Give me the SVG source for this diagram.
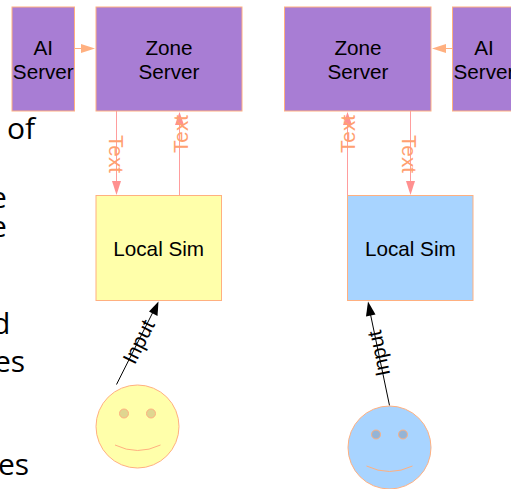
<svg xmlns="http://www.w3.org/2000/svg" width="511" height="489" viewBox="0 0 511 489">
<style>
.box{stroke:#ffb080;stroke-width:1}
.purple{fill:#a87dd4}
.yellow{fill:#ffffaa}
.blue{fill:#a8d4ff}
.t{font:20.700px "Liberation Sans",Arial,sans-serif;fill:#000;text-anchor:middle}
.c{font:20.700px "Liberation Sans",Arial,sans-serif;fill:#ffa070;text-anchor:middle}
.i{font:20.700px "Liberation Sans",Arial,sans-serif;fill:#000;text-anchor:middle}
.b{font:30px "Open Sans","DejaVu Sans",sans-serif;fill:#000}
.l{fill:none;stroke:#ff9d9d;stroke-width:1}
.k{fill:none;stroke:#000;stroke-width:1}
.f{stroke:#ffb080;stroke-width:1}
.m{fill:none;stroke:#ffb080;stroke-width:1}
</style>
<g id="background-text">
<text class="b" x="7" y="139">of</text>
<text class="b" x="-10" y="208">e</text>
<text class="b" x="-10" y="237">e</text>
<text class="b" x="-8" y="334">d</text>
<text class="b" x="-6" y="372">es</text>
<text class="b" x="-2" y="475">es</text>
</g>
<g id="connectors">
<line class="l" x1="75" y1="48.500" x2="82" y2="48.500" style="stroke:#ffb080"/>
<polygon points="95,48.500 81,44 81,53" fill="#ffb080"/>
<line class="l" x1="116.500" y1="111" x2="116.500" y2="182"/>
<polygon points="116.500,195 112,181 121,181" fill="#ff9090"/>
<line class="l" x1="179.500" y1="195" x2="179.500" y2="125"/>
<polygon points="179.500,112 175,125 184,125" fill="#ff9090"/>
<line class="l" x1="347.500" y1="195" x2="347.500" y2="125"/>
<polygon points="347.500,112 343,125 352,125" fill="#ff9090"/>
<line class="l" x1="410.500" y1="111" x2="410.500" y2="182"/>
<polygon points="410.500,195 406,181 415,181" fill="#ff9090"/>
<line class="l" x1="452" y1="48.500" x2="444" y2="48.500" style="stroke:#ffb080"/>
<polygon points="432,48.500 446,44 446,53" fill="#ffb080"/>
<line class="k" x1="116.500" y1="384.500" x2="153" y2="312"/>
<polygon points="158.500,301.500 157.500,316 149,311.500" fill="#000"/>
<line class="k" x1="389.500" y1="405.500" x2="370" y2="312"/>
<polygon points="368,301.500 375.500,314.500 366,316.500" fill="#000"/>
<text class="c" transform="translate(108.500,154) rotate(90)">Text</text>
<text class="c" transform="translate(187.500,134) rotate(-90)">Text</text>
<text class="c" transform="translate(355.300,134) rotate(-90)">Text</text>
<text class="c" transform="translate(401.700,154) rotate(90)">Text</text>
<text class="i" transform="translate(145,345) rotate(-63.200)">Input</text>
<text class="i" transform="translate(385.500,352) rotate(-101.800)">Input</text>
</g>
<g id="ai-server-left"><rect class="box purple" x="12" y="7" width="62.500" height="104"/><text class="t" x="43.300" y="55">AI</text><text class="t" x="43.300" y="78.500">Server</text></g>
<g id="zone-server-left"><rect class="box purple" x="96" y="7" width="146" height="104"/><text class="t" x="169" y="55">Zone</text><text class="t" x="169" y="78.500">Server</text></g>
<g id="zone-server-right"><rect class="box purple" x="284.500" y="7" width="146.500" height="104"/><text class="t" x="358" y="55">Zone</text><text class="t" x="358" y="78.500">Server</text></g>
<g id="ai-server-right"><rect class="box purple" x="452.500" y="7" width="62.500" height="104"/><text class="t" x="484" y="55">AI</text><text class="t" x="484" y="78.500">Server</text></g>
<g id="local-sim-left"><rect class="box yellow" x="96" y="195.500" width="125.500" height="105"/><text class="t" x="158.700" y="256">Local Sim</text></g>
<g id="local-sim-right"><rect class="box blue" x="347.500" y="195.500" width="125.500" height="105"/><text class="t" x="410.300" y="256">Local Sim</text></g>
<g id="user-left">
<circle cx="137.500" cy="426.500" r="41.500" class="box yellow"/>
<circle cx="124" cy="413.500" r="4.500" class="f" fill="#dfd690"/>
<circle cx="151" cy="413.500" r="4.500" class="f" fill="#dfd690"/>
<path class="m" d="M115 445Q137.500 456 160.500 445"/>
</g>
<g id="user-right">
<circle cx="389.500" cy="447.500" r="41.500" class="box blue"/>
<circle cx="376" cy="434.500" r="4.500" class="f" fill="#94b4d6"/>
<circle cx="403" cy="434.500" r="4.500" class="f" fill="#94b4d6"/>
<path class="m" d="M366.500 466Q389.500 477 412.500 466"/>
</g>
</svg>
